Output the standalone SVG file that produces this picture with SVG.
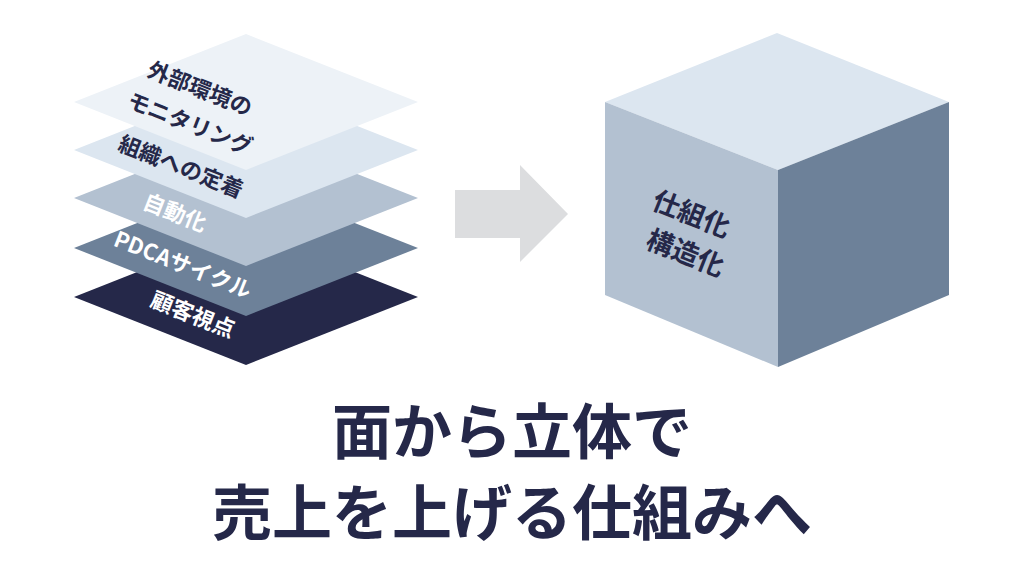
<svg xmlns="http://www.w3.org/2000/svg" width="1024" height="587" viewBox="0 0 1024 587">
<style>
.t{font-family:"Noto Sans CJK JP","Noto Sans",sans-serif;font-weight:bold;text-anchor:middle}
.dk{fill:#252849}
.wh{fill:#ffffff}
</style>
<defs><polygon id="d" points="0,-68 172,0 0,68 -172,0"/></defs>
<rect width="1024" height="587" fill="#fff"/>
<g id="layer5"><use href="#d" x="246" y="297" fill="#252849"/>
<text class="t wh" font-size="22" transform="translate(190,322) rotate(21.6)">顧客視点</text></g>
<g id="layer4"><use href="#d" x="246" y="248" fill="#6d8199"/>
<text class="t wh" font-size="22" transform="translate(180,272) rotate(21.6)">PDCAサイクル</text></g>
<g id="layer3"><use href="#d" x="246" y="198" fill="#b3c1d1"/>
<text class="t wh" font-size="22" transform="translate(172,220) rotate(21.6)">自動化</text></g>
<g id="layer2"><use href="#d" x="246" y="150" fill="#dce6f0"/>
<text class="t dk" font-size="22" transform="translate(178,174) rotate(21.6)">組織への定着</text></g>
<g id="layer1"><use href="#d" x="246" y="102" fill="#edf2f7"/>
<text class="t dk" font-size="22" transform="translate(197,96) rotate(21.6)">外部環境の</text>
<text class="t dk" font-size="22" transform="translate(187,131) rotate(21.6)">モニタリング</text></g>
<g id="connectors"><polygon points="455,190 520,190 520,165 568,214 520,262 520,238 455,238" fill="#dcdddf"/></g>
<g id="cube">
<polygon points="777,33 949,102 778,170 605,102" fill="#dce6f0"/>
<polygon points="605,102 778,170 778,367 605,295" fill="#b3c1d1"/>
<polygon points="778,170 949,102 949,295 778,367" fill="#6d8199"/>
<text class="t dk" font-size="27" transform="translate(688,223) rotate(21.6)">仕組化</text>
<text class="t dk" font-size="27" transform="translate(682,262) rotate(21.6)">構造化</text>
</g>
<g id="title">
<text class="t dk" x="512" y="454" font-size="60">面から立体で</text>
<text class="t dk" x="512" y="535" font-size="60">売上を上げる仕組みへ</text>
</g>
</svg>
